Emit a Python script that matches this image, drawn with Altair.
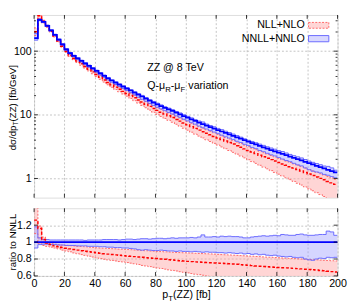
import altair as alt
import pandas as pd

FONT = "Liberation Sans"
BIN_W = 2.5

# NNLL+NNLO central value, fb/GeV, per 2.5 GeV bin (0..200)
NNLL = [160, 310, 288, 250, 212, 180, 152, 128, 107, 93,
        84.3, 77.0, 70.4, 64.3, 58.8, 53.7, 49.1, 44.9, 41.0, 37.5,
        34.6, 32.1, 29.9, 27.8, 25.9, 24.1, 22.4, 20.8, 19.4, 18.0,
        16.7, 15.6, 14.6, 13.7, 12.9, 12.2, 11.5, 10.8, 10.2, 9.57,
        9.02, 8.49, 8.00, 7.53, 7.12, 6.75, 6.41, 6.08, 5.77, 5.47,
        5.19, 4.93, 4.68, 4.44, 4.21, 4.00, 3.79, 3.60, 3.42, 3.24,
        3.08, 2.94, 2.80, 2.67, 2.55, 2.43, 2.32, 2.21, 2.11, 2.01,
        1.92, 1.83, 1.74, 1.66, 1.58, 1.51, 1.44, 1.37, 1.31, 1.25]

# ratios to NNLL central
NNLL_UP_R = [1.18, 1.05, 1.03, 1.03, 1.025, 1.025, 1.025, 1.025, 1.025, 1.025,
             1.025, 1.025, 1.025, 1.02, 1.025, 1.025, 1.025, 1.025, 1.03, 1.03,
             1.03, 1.03, 1.025, 1.03, 1.035, 1.035, 1.03, 1.035, 1.04, 1.04,
             1.035, 1.04, 1.045, 1.045, 1.04, 1.045, 1.05, 1.045, 1.05, 1.05,
             1.05, 1.055, 1.05, 1.06, 1.085, 1.06, 1.06, 1.065, 1.06, 1.07,
             1.065, 1.07, 1.065, 1.065, 1.06, 1.05, 1.05, 1.06, 1.065, 1.07,
             1.075, 1.07, 1.075, 1.08, 1.075, 1.09, 1.085, 1.08, 1.08, 1.09,
             1.095, 1.085, 1.08, 1.08, 1.085, 1.09, 1.09, 1.13, 1.12, 1.08]
NNLL_DN_R = [0.93, 0.97, 0.975, 0.975, 0.97, 0.97, 0.965, 0.965, 0.96, 0.96,
             0.96, 0.955, 0.955, 0.955, 0.95, 0.95, 0.95, 0.945, 0.945, 0.94,
             0.94, 0.935, 0.935, 0.93, 0.93, 0.925, 0.92, 0.91, 0.905, 0.91,
             0.905, 0.9, 0.9, 0.905, 0.9, 0.895, 0.895, 0.89, 0.895, 0.89,
             0.89, 0.885, 0.89, 0.885, 0.88, 0.885, 0.88, 0.88, 0.875, 0.875,
             0.87, 0.875, 0.87, 0.865, 0.87, 0.86, 0.865, 0.855, 0.86, 0.85,
             0.855, 0.845, 0.84, 0.845, 0.835, 0.83, 0.825, 0.83, 0.82, 0.815,
             0.82, 0.8, 0.79, 0.785, 0.8, 0.81, 0.805, 0.82, 0.815, 0.82]
NLL_R = [1.26, 1.16, 1.03, 0.99, 0.97, 0.955, 0.945, 0.935, 0.928, 0.92,
         0.912, 0.905, 0.898, 0.892, 0.886, 0.88, 0.873, 0.868, 0.862, 0.858,
         0.853, 0.849, 0.845, 0.84, 0.836, 0.832, 0.828, 0.824, 0.82, 0.816,
         0.812, 0.808, 0.805, 0.801, 0.797, 0.792, 0.788, 0.784, 0.78, 0.776,
         0.772, 0.769, 0.766, 0.764, 0.761, 0.758, 0.756, 0.753, 0.751, 0.749,
         0.746, 0.744, 0.741, 0.737, 0.733, 0.729, 0.725, 0.722, 0.718, 0.715,
         0.712, 0.709, 0.706, 0.703, 0.7, 0.697, 0.695, 0.692, 0.689, 0.686,
         0.683, 0.68, 0.677, 0.673, 0.669, 0.665, 0.661, 0.656, 0.651, 0.646]
NLL_UP_R = [1.45, 1.19, 1.06, 1.0, 0.985, 0.975, 0.97, 0.965, 0.962, 0.958,
            0.955, 0.95, 0.948, 0.945, 0.94, 0.937, 0.933, 0.93, 0.928, 0.925,
            0.922, 0.92, 0.917, 0.915, 0.912, 0.91, 0.907, 0.905, 0.9, 0.898,
            0.895, 0.893, 0.89, 0.888, 0.885, 0.883, 0.88, 0.878, 0.876, 0.874,
            0.872, 0.87, 0.868, 0.866, 0.864, 0.862, 0.86, 0.858, 0.855, 0.852,
            0.85, 0.848, 0.845, 0.843, 0.84, 0.838, 0.835, 0.833, 0.83, 0.828,
            0.825, 0.822, 0.82, 0.817, 0.815, 0.812, 0.81, 0.807, 0.805, 0.802,
            0.8, 0.797, 0.795, 0.792, 0.79, 0.787, 0.785, 0.782, 0.78, 0.777]
NLL_DN_R = [1.1, 0.98, 0.96, 0.95, 0.94, 0.93, 0.92, 0.905, 0.895, 0.885,
            0.872, 0.862, 0.852, 0.843, 0.833, 0.823, 0.813, 0.805, 0.797, 0.79,
            0.783, 0.777, 0.77, 0.765, 0.758, 0.751, 0.744, 0.735, 0.724, 0.718,
            0.71, 0.702, 0.695, 0.688, 0.68, 0.672, 0.665, 0.658, 0.65, 0.643,
            0.636, 0.628, 0.621, 0.615, 0.608, 0.6, 0.594, 0.586, 0.58, 0.572,
            0.565, 0.558, 0.55, 0.543, 0.535, 0.527, 0.52, 0.512, 0.505, 0.497,
            0.49, 0.482, 0.474, 0.466, 0.458, 0.45, 0.442, 0.434, 0.426, 0.418,
            0.41, 0.402, 0.394, 0.386, 0.378, 0.37, 0.362, 0.354, 0.346, 0.338]

X_TICKS = [0, 20, 40, 60, 80, 100, 120, 140, 160, 180, 200]
Y_TOP_TICKS = [1, 10, 100]
Y_TOP_MINOR = [2, 3, 4, 5, 6, 7, 8, 9, 20, 30, 40, 50, 60, 70, 80, 90, 200, 300]
Y_BOT_TICKS = [0.6, 0.8, 1, 1.2]

edges = [BIN_W * i for i in range(len(NNLL) + 1)]


def ext(a):
    a = list(a)
    return a + [a[-1]]


def mul(a, r):
    return [x * y for x, y in zip(a, r)]


top_df = pd.DataFrame({
    "pt": edges,
    "nnll": ext(NNLL),
    "nnll_up": ext(mul(NNLL, NNLL_UP_R)),
    "nnll_dn": ext(mul(NNLL, NNLL_DN_R)),
    "nll": ext(mul(NNLL, NLL_R)),
    "nll_up": ext(mul(NNLL, NLL_UP_R)),
    "nll_dn": ext(mul(NNLL, NLL_DN_R)),
})
bot_df = pd.DataFrame({
    "pt": edges,
    "nnll": ext([v / v for v in NNLL]),
    "nnll_up": ext(NNLL_UP_R),
    "nnll_dn": ext(NNLL_DN_R),
    "nll": ext(NLL_R),
    "nll_up": ext(NLL_UP_R),
    "nll_dn": ext(NLL_DN_R),
})

W = 314
H_TOP = 189
H_BOT = 70

GRID = dict(grid=True, gridColor="#b4b4b4", gridDash=[2, 2], gridWidth=0.8,
            ticks=False, domain=False)

PINK = "#ff9a9a"
LAV = "#9a9aff"
RED = "#ff0000"
BLUE = "#0000ff"
RED_EDGE = "#ff6666"
BLUE_EDGE = "#6a6aff"
XS = alt.Scale(domain=[0, 200], nice=False, zero=False)


def panel(df, yscale, xaxis, yaxis):
    base = alt.Chart(df).encode(x=alt.X("pt:Q", scale=XS, axis=xaxis, title=None))

    def Y(f):
        return alt.Y(f + ":Q", scale=yscale, axis=yaxis, title=None)

    layers = [
        base.mark_area(interpolate="step-after", color=PINK, opacity=0.42, clip=True)
            .encode(y=Y("nll_up"), y2="nll_dn:Q"),
        base.mark_area(interpolate="step-after", color=LAV, opacity=0.42, clip=True)
            .encode(y=Y("nnll_up"), y2="nnll_dn:Q"),
    ]
    for f in ["nll_up", "nll_dn"]:
        layers.append(base.mark_line(interpolate="step-after", color=RED_EDGE, strokeWidth=1,
                                     strokeDash=[2, 1.5], clip=True).encode(y=Y(f)))
    for f in ["nnll_up", "nnll_dn"]:
        layers.append(base.mark_line(interpolate="step-after", color=BLUE_EDGE, strokeWidth=1,
                                     clip=True).encode(y=Y(f)))
    layers.append(base.mark_line(interpolate="step-after", color=RED, strokeWidth=1.5,
                                 strokeDash=[3, 2], clip=True).encode(y=Y("nll")))
    layers.append(base.mark_line(interpolate="step-after", color=BLUE, strokeWidth=1.8,
                                 clip=True).encode(y=Y("nnll")))
    return layers


def ticks(xaxis, yscale, yaxis, h, ymajor, yminor):
    out = []
    xt = alt.Chart(pd.DataFrame({"v": X_TICKS})).mark_rule(color="black", strokeWidth=0.8)
    for y1, y2 in [(h, h - 4), (0, 4)]:
        out.append(xt.encode(x=alt.X("v:Q", scale=XS, axis=xaxis, title=None),
                             y=alt.value(y1), y2=alt.value(y2)))
    for vals, ln in [(ymajor, 4), (yminor, 2)]:
        if not vals:
            continue
        yt = alt.Chart(pd.DataFrame({"v": vals})).mark_rule(color="black", strokeWidth=0.8)
        for x1, x2 in [(0, ln), (W, W - ln)]:
            out.append(yt.encode(y=alt.Y("v:Q", scale=yscale, axis=yaxis, title=None),
                                 x=alt.value(x1), x2=alt.value(x2)))
    return out


def txt(s, x, y, size=11, align="left", baseline="alphabetic", angle=0):
    return alt.Chart(alt.Data(values=[{}])).mark_text(
        text=s, fontSize=size, align=align, baseline=baseline, angle=angle,
        font=FONT, color="black").encode(x=alt.value(x), y=alt.value(y))


def box(x1, x2, y1, y2, fill, stroke, dash=None):
    kw = dict(fill=fill, stroke=stroke, strokeWidth=1)
    if dash:
        kw["strokeDash"] = dash
    return alt.Chart(alt.Data(values=[{}])).mark_rect(**kw).encode(
        x=alt.value(x1), x2=alt.value(x2), y=alt.value(y1), y2=alt.value(y2))


TX = -21.5  # centre of the rotated y titles, relative to plot left

top_x_axis = alt.Axis(values=X_TICKS, labels=False, **GRID)
top_y_axis = alt.Axis(values=Y_TOP_TICKS, format="d", labelFontSize=11, labelPadding=3,
                      labelFont=FONT, labelColor="black", **GRID)
top_ys = alt.Scale(type="log", domain=[0.5, 370], nice=False)

top_layers = panel(top_df, top_ys, top_x_axis, top_y_axis)
top_layers += ticks(top_x_axis, top_ys, top_y_axis, H_TOP, Y_TOP_TICKS, Y_TOP_MINOR)
top_layers += [
    # legend
    txt("NLL+NLO", 280, 10.5, baseline="middle", align="right"),
    box(284, 305, 7.7, 13.7, "#ffd6d6", RED_EDGE, [2, 1.5]),
    txt("NNLL+NNLO", 280, 24.5, baseline="middle", align="right"),
    box(284, 305, 21.3, 27.7, "#d8d8ff", BLUE_EDGE),
    # annotations
    txt("ZZ @ 8 TeV", 117, 58),
    txt("Q-\u03bc", 117, 77),
    txt("R", 135.6, 80, size=8),
    txt("-\u03bc", 141.4, 77),
    txt("F", 151.4, 80, size=8),
    txt("variation", 159.6, 77),
    # y title (rotated)
    txt("d\u03c3/dp", TX, 140, size=10, baseline="middle", angle=270),
    txt("T", TX + 2.5, 114.4, size=7, baseline="middle", angle=270),
    txt("(ZZ) [fb/GeV]", TX, 110.1, size=10, baseline="middle", angle=270),
]
top_chart = alt.layer(*top_layers).properties(width=W, height=H_TOP)

bot_x_axis = alt.Axis(values=X_TICKS, labelFontSize=11, labelPadding=2, labelFont=FONT,
                      labelColor="black", labelFlush=False, **GRID)
bot_y_axis = alt.Axis(values=Y_BOT_TICKS, format="~g", labelFontSize=11, labelPadding=3,
                      labelFont=FONT, labelColor="black", **GRID)
bot_ys = alt.Scale(domain=[0.6, 1.4], nice=False, zero=False)

bot_layers = panel(bot_df, bot_ys, bot_x_axis, bot_y_axis)
bot_layers += ticks(bot_x_axis, bot_ys, bot_y_axis, H_BOT, Y_BOT_TICKS, [])
bot_layers += [
    txt("ratio to NNLL", TX, 35, size=10, baseline="middle", align="center", angle=270),
    txt("p", 132.7, 93),
    txt("T", 138.8, 96, size=8),
    txt("(ZZ) [fb]", 143.7, 93),
]
bot_chart = alt.layer(*bot_layers).properties(width=W, height=H_BOT)

chart = alt.vconcat(top_chart, bot_chart, spacing=9).properties(
    padding={"left": 0, "top": 1, "right": 6, "bottom": 0}
).configure_view(stroke="black", strokeWidth=1).configure(font=FONT)

chart.save("out.html", embed_options={"renderer": "svg", "actions": False})
